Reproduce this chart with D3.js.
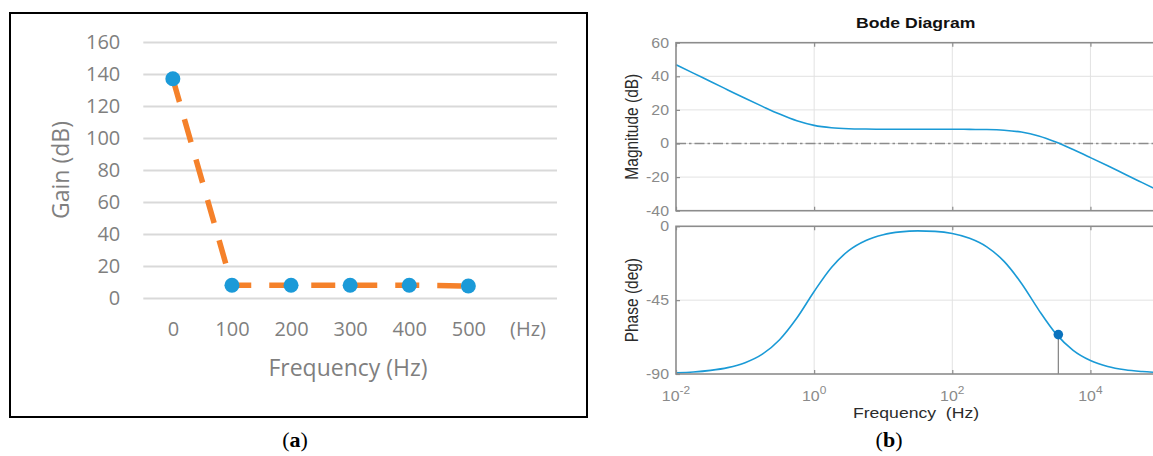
<!DOCTYPE html>
<html>
<head>
<meta charset="utf-8">
<script src="https://cdn.jsdelivr.net/npm/d3@7"></script>
<style>
  html, body { margin: 0; padding: 0; background: #fff; overflow: hidden; }
  text.pre { white-space: pre; }
</style>
</head>
<body>
<svg id="fig" width="1153" height="456"></svg>
<script>
// ---- Panel (a): gain measured at discrete test frequencies ----
const freqCategories = ["0", "100", "200", "300", "400", "500", "(Hz)"];
const gainFreq = ["0", "100", "200", "300", "400", "500"];
const gainValues = [137, 8, 8, 8, 8, 7.5];
const gainTicks = [0, 20, 40, 60, 80, 100, 120, 140, 160];

// ---- Panel (b): Bode diagram of the open loop ----
const bodeFreq = [0.01, 0.0178, 0.0316, 0.0562, 0.1, 0.178, 0.316, 0.562,
                  1, 1.78, 3.16, 5.62, 10, 17.8, 31.6, 56.2,
                  100, 178, 316, 562, 1000, 1780, 3160, 5620,
                  10000, 17800, 31600, 56200, 100000];
const bodeMag = [46.9, 41.9, 36.9, 31.9, 26.9, 22.1, 17.5, 13.5,
                 10.8, 9.4, 8.8, 8.6, 8.5, 8.5, 8.5, 8.5,
                 8.5, 8.4, 8.3, 7.9, 6.8, 4.5, 0.9, -3.6,
                 -8.4, -13.3, -18.3, -23.3, -28.3];
const bodePhase = [-89.3, -88.8, -87.8, -86.1, -83.1, -77.9, -69.1, -55.9,
                   -39.7, -25.1, -14.8, -8.6, -5.1, -3.4, -2.8, -3.1,
                   -4.4, -7.3, -12.5, -21.4, -34.7, -50.9, -65.4, -75.6,
                   -81.8, -85.4, -87.4, -88.5, -89.2];
const magTicks = [-40, -20, 0, 20, 40, 60];
const phaseTicks = [-90, -45, 0];
const freqTicks = [0.01, 1, 100, 10000];
const crossoverFreq = 3430;
const crossoverPhase = -66;

const svg = d3.select("#fig");
svg.append("rect").attr("width", 1153).attr("height", 456).attr("fill", "#fff");

// ======================= Panel (a) =======================
const A = { left: 143.3, right: 557, top: 42, bottom: 298 };
const xA = d3.scalePoint().domain(freqCategories).range([A.left, A.right]).padding(0.5);
const yA = d3.scaleLinear().domain([0, 160]).range([A.bottom, A.top]);
const gA = svg.append("g");
const excelFont = "'Open Sans', 'Liberation Sans', sans-serif";
const excelGrey = "#7f7f7f";

gA.append("rect")
  .attr("x", 10).attr("y", 13).attr("width", 577).attr("height", 404)
  .attr("fill", "none").attr("stroke", "#000").attr("stroke-width", 2);

const yAxisA = gA.append("g")
  .attr("transform", `translate(${A.left},0)`)
  .call(d3.axisLeft(yA).tickValues(gainTicks).tickSize(-(A.right - A.left)).tickPadding(23).tickFormat(d3.format("d")));
yAxisA.select(".domain").remove();
yAxisA.selectAll(".tick line").attr("stroke", "#d9d9d9").attr("stroke-width", 2);
yAxisA.selectAll(".tick text")
  .attr("fill", excelGrey).attr("font-family", excelFont).attr("font-size", 20);

const xAxisA = gA.append("g")
  .attr("transform", `translate(0,${A.bottom})`)
  .call(d3.axisBottom(xA).tickSize(0).tickPadding(24));
xAxisA.select(".domain").remove();
xAxisA.selectAll(".tick text")
  .attr("fill", excelGrey).attr("font-family", excelFont).attr("font-size", 20);

const gainPts = gainFreq.map((f, i) => ({ f, g: gainValues[i] }));
gA.append("path")
  .datum(gainPts)
  .attr("d", d3.line().x(d => xA(d.f)).y(d => yA(d.g)))
  .attr("fill", "none")
  .attr("stroke", "#f5812a")
  .attr("stroke-width", 5.5)
  .attr("stroke-dasharray", "24,18")
  .attr("stroke-linejoin", "round");
gA.selectAll("circle.gain")
  .data(gainPts)
  .join("circle")
  .attr("class", "gain")
  .attr("cx", d => xA(d.f))
  .attr("cy", d => yA(d.g))
  .attr("r", 7.5)
  .attr("fill", "#1b9ad8");

gA.append("text")
  .attr("transform", "translate(68.5,170) rotate(-90)")
  .attr("text-anchor", "middle")
  .attr("font-family", excelFont).attr("font-size", 23).attr("fill", excelGrey)
  .text("Gain (dB)");
gA.append("text")
  .attr("x", 348).attr("y", 376)
  .attr("text-anchor", "middle")
  .attr("font-family", excelFont).attr("font-size", 23).attr("fill", excelGrey)
  .text("Frequency (Hz)");

// ======================= Panel (b) =======================
const SX = 1.137; // horizontal stretch of the exported figure
const B = { left: 676, right: 1159.5, magTop: 42.7, magBottom: 210.7, phTop: 226.3, phBottom: 374 };
const xB = d3.scaleLog().domain([1e-2, 1e5]).range([B.left, B.right]);
const yMag = d3.scaleLinear().domain([-40, 60]).range([B.magBottom, B.magTop]);
const yPh = d3.scaleLinear().domain([-90, 0]).range([B.phBottom, B.phTop]);
const mlFont = "'Liberation Sans', Arial, Helvetica, sans-serif";
const tickGrey = "#8a8a8a";
const boxGrey = "#8c8c8c";
const gridGrey = "#e2e2e2";

svg.append("defs").append("clipPath").attr("id", "clipB")
  .append("rect").attr("x", 595).attr("y", 0).attr("width", 558).attr("height", 421);
const gB = svg.append("g").attr("clip-path", "url(#clipB)");

function drawPanel(yScale, top, bottom, ticks) {
  const g = gB.append("g");
  // grid
  g.selectAll("line.vgrid")
    .data(freqTicks.filter(t => t > 0.01))
    .join("line")
    .attr("x1", d => xB(d)).attr("x2", d => xB(d))
    .attr("y1", top).attr("y2", bottom)
    .attr("stroke", gridGrey).attr("stroke-width", 1);
  g.selectAll("line.hgrid")
    .data(ticks.filter(t => yScale(t) > top + 1 && yScale(t) < bottom - 1))
    .join("line")
    .attr("x1", B.left).attr("x2", B.right)
    .attr("y1", d => yScale(d)).attr("y2", d => yScale(d))
    .attr("stroke", gridGrey).attr("stroke-width", 1);
  return g;
}

const gMag = drawPanel(yMag, B.magTop, B.magBottom, magTicks);
const gPh = drawPanel(yPh, B.phTop, B.phBottom, phaseTicks);

// 0 dB reference
gMag.append("line")
  .attr("x1", B.left).attr("x2", B.right)
  .attr("y1", yMag(0)).attr("y2", yMag(0))
  .attr("stroke", "#8c8c8c").attr("stroke-width", 1.6)
  .attr("stroke-dasharray", "10,3,2.5,3");

const bodePts = bodeFreq.map((f, i) => ({ f, m: bodeMag[i], p: bodePhase[i] }));
const curveColor = "#1a9ad6";
gMag.append("path")
  .datum(bodePts)
  .attr("d", d3.line().x(d => xB(d.f)).y(d => yMag(d.m)).curve(d3.curveMonotoneX))
  .attr("fill", "none").attr("stroke", curveColor).attr("stroke-width", 1.6);
gPh.append("path")
  .datum(bodePts)
  .attr("d", d3.line().x(d => xB(d.f)).y(d => yPh(d.p)).curve(d3.curveMonotoneX))
  .attr("fill", "none").attr("stroke", curveColor).attr("stroke-width", 1.6);

// phase margin marker at the crossover frequency
gPh.append("line")
  .attr("x1", xB(crossoverFreq)).attr("x2", xB(crossoverFreq))
  .attr("y1", yPh(crossoverPhase)).attr("y2", yPh(-90))
  .attr("stroke", "#808080").attr("stroke-width", 1.2);
gPh.append("circle")
  .attr("cx", xB(crossoverFreq)).attr("cy", yPh(crossoverPhase))
  .attr("r", 4.8).attr("fill", "#0a72bd");

// axes boxes and ticks
function frame(g, yScale, top, bottom, ticks) {
  g.append("rect")
    .attr("x", B.left).attr("y", top)
    .attr("width", B.right - B.left).attr("height", bottom - top)
    .attr("fill", "none").attr("stroke", boxGrey).attr("stroke-width", 1.6);
  const yAx = g.append("g").attr("transform", `translate(${B.left},0)`)
    .call(d3.axisLeft(yScale).tickValues(ticks).tickSize(-4).tickSizeOuter(0)
      .tickPadding(7 / SX).tickFormat(d => String(d)));
  yAx.select(".domain").remove();
  yAx.selectAll(".tick line").attr("stroke", boxGrey).attr("stroke-width", 1.2);
  yAx.selectAll(".tick text")
    .attr("transform", `scale(${SX},1)`)
    .attr("font-family", mlFont).attr("font-size", 14).attr("fill", tickGrey);
  const topAx = g.append("g").attr("transform", `translate(0,${top})`)
    .call(d3.axisTop(xB).tickValues(freqTicks).tickSize(-4).tickSizeOuter(0).tickFormat(() => ""));
  const botAx = g.append("g").attr("transform", `translate(0,${bottom})`)
    .call(d3.axisBottom(xB).tickValues(freqTicks).tickSize(-4).tickSizeOuter(0).tickFormat(() => ""));
  [topAx, botAx].forEach(ax => {
    ax.select(".domain").remove();
    ax.selectAll(".tick line").attr("stroke", boxGrey).attr("stroke-width", 1.2);
  });
}
frame(gMag, yMag, B.magTop, B.magBottom, magTicks);
frame(gPh, yPh, B.phTop, B.phBottom, phaseTicks);

// decade labels under the phase axes
freqTicks.forEach(t => {
  const txt = gB.append("text")
    .attr("transform", `translate(${xB(t)},400.5) scale(${SX},1)`)
    .attr("text-anchor", "middle")
    .attr("font-family", mlFont).attr("font-size", 14).attr("fill", tickGrey);
  txt.append("tspan").text("10");
  txt.append("tspan").attr("dy", -6.5).attr("font-size", 10.5).text(String(Math.round(Math.log10(t))));
});

// titles
gB.append("text")
  .attr("transform", `translate(915.7,28.3) scale(${SX},1)`)
  .attr("text-anchor", "middle")
  .attr("font-family", mlFont).attr("font-size", 15.5).attr("font-weight", "bold").attr("fill", "#111")
  .text("Bode Diagram");
gB.append("text")
  .attr("class", "pre")
  .attr("transform", `translate(916,418) scale(${SX},1)`)
  .attr("text-anchor", "middle")
  .attr("font-family", mlFont).attr("font-size", 15.5).attr("fill", "#2b2b2b")
  .text("Frequency  (Hz)");
gB.append("text")
  .attr("transform", `translate(637.5,${(B.magTop + B.magBottom) / 2}) scale(${SX},1) rotate(-90)`)
  .attr("text-anchor", "middle")
  .attr("font-family", mlFont).attr("font-size", 15.5).attr("fill", "#2b2b2b")
  .text("Magnitude (dB)");
gB.append("text")
  .attr("transform", `translate(637.5,${(B.phTop + B.phBottom) / 2}) scale(${SX},1) rotate(-90)`)
  .attr("text-anchor", "middle")
  .attr("font-family", mlFont).attr("font-size", 15.5).attr("fill", "#2b2b2b")
  .text("Phase (deg)");

// ======================= Sub-figure captions =======================
const serif = "'Liberation Serif', 'DejaVu Serif', serif";
[["a", 295], ["b", 889]].forEach(([letter, cx]) => {
  const t = svg.append("text")
    .attr("x", cx).attr("y", 447)
    .attr("text-anchor", "middle")
    .attr("font-family", serif).attr("font-size", 22).attr("fill", "#000");
  t.append("tspan").text("(");
  t.append("tspan").attr("font-weight", "bold").text(letter);
  t.append("tspan").text(")");
});
</script>
</body>
</html>
